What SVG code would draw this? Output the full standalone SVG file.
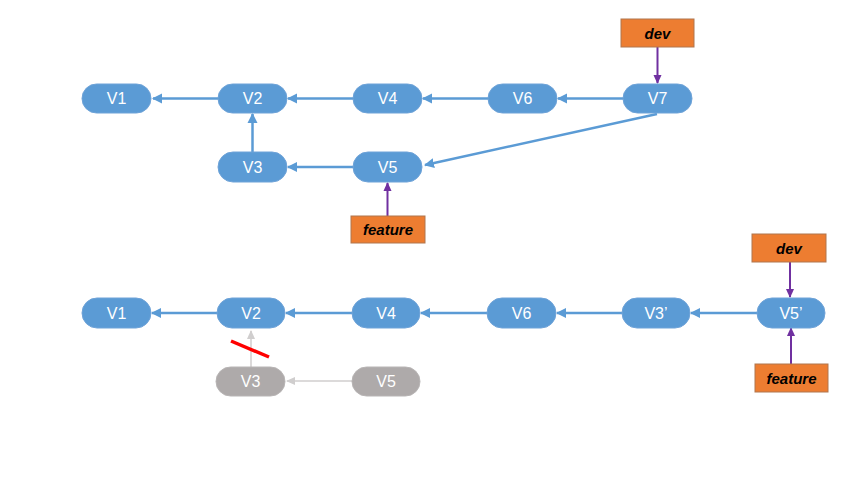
<svg xmlns="http://www.w3.org/2000/svg" width="861" height="477" viewBox="0 0 861 477">
<defs>
<marker id="ab" markerWidth="12" markerHeight="12" refX="9" refY="6" orient="auto" markerUnits="userSpaceOnUse">
<path d="M0,1 L10,6 L0,11 z" fill="#5B9BD5"/>
</marker>
<marker id="ap" markerWidth="10" markerHeight="10" refX="8" refY="5" orient="auto" markerUnits="userSpaceOnUse">
<path d="M0,1 L9,5 L0,9 z" fill="#7030A0"/>
</marker>
<marker id="ag" markerWidth="10" markerHeight="10" refX="8" refY="5" orient="auto" markerUnits="userSpaceOnUse">
<path d="M0,1 L9,5 L0,9 z" fill="#D0CECE"/>
</marker>
<style>
.n{fill:#5B9BD5;stroke:#6FA3D8;stroke-width:1}
.g{fill:#AEAAAA;stroke:#B8B5B5;stroke-width:1}
.o{fill:#ED7D31;stroke:#B0764E;stroke-width:1}
.t{font-family:"Liberation Sans",Arial,sans-serif;font-size:16px;fill:#FFFFFF;text-anchor:middle;dominant-baseline:central}
.l{font-family:"Liberation Sans",Arial,sans-serif;font-size:15px;font-weight:bold;font-style:italic;fill:#000000;text-anchor:middle;dominant-baseline:central}
.cb{stroke:#5B9BD5;stroke-width:2.5;fill:none;marker-end:url(#ab)}
.cp{stroke:#7030A0;stroke-width:2;fill:none;marker-end:url(#ap)}
.cg{stroke:#D0CECE;stroke-width:1.5;fill:none;marker-end:url(#ag)}
</style>
</defs>
<g id="connectors">
<line class="cb" x1="218" y1="98.5" x2="153" y2="98.5"/>
<line class="cb" x1="353" y1="98.5" x2="288" y2="98.5"/>
<line class="cb" x1="488" y1="98.5" x2="423" y2="98.5"/>
<line class="cb" x1="623" y1="98.5" x2="558" y2="98.5"/>
<line class="cb" x1="252.5" y1="152" x2="252.5" y2="114"/>
<line class="cb" x1="353" y1="167" x2="288" y2="167"/>
<line class="cb" x1="657" y1="114" x2="425" y2="165"/>
<line class="cp" x1="387.5" y1="216" x2="387.5" y2="183"/>
<line class="cp" x1="657.5" y1="47" x2="657.5" y2="83"/>
<line class="cb" x1="217" y1="313" x2="152" y2="313"/>
<line class="cb" x1="352" y1="313" x2="286" y2="313"/>
<line class="cb" x1="487" y1="313" x2="421" y2="313"/>
<line class="cb" x1="622" y1="313" x2="557" y2="313"/>
<line class="cb" x1="757" y1="313" x2="691" y2="313"/>
<line class="cp" x1="790" y1="262" x2="790" y2="297"/>
<line class="cp" x1="791" y1="364" x2="791" y2="328"/>
<line class="cg" x1="251" y1="367" x2="251" y2="331"/>
<line class="cg" x1="352" y1="381" x2="287" y2="381"/>
<line x1="231" y1="341" x2="269" y2="357" stroke="#FF0000" stroke-width="3.5"/>
</g>
<g id="t-v1"><rect class="n" x="82" y="84" width="69" height="29" rx="14.5"/><text class="t" x="116.5" y="98.5">V1</text></g>
<g id="t-v2"><rect class="n" x="218" y="84" width="69" height="29" rx="14.5"/><text class="t" x="252.5" y="98.5">V2</text></g>
<g id="t-v4"><rect class="n" x="353" y="84" width="69" height="29" rx="14.5"/><text class="t" x="387.5" y="98.5">V4</text></g>
<g id="t-v6"><rect class="n" x="488" y="84" width="69" height="29" rx="14.5"/><text class="t" x="522.5" y="98.5">V6</text></g>
<g id="t-v7"><rect class="n" x="623" y="84" width="69" height="29" rx="14.5"/><text class="t" x="657.5" y="98.5">V7</text></g>
<g id="t-v3"><rect class="n" x="218" y="152" width="69" height="30" rx="15"/><text class="t" x="252.5" y="167">V3</text></g>
<g id="t-v5"><rect class="n" x="353" y="152" width="69" height="30" rx="15"/><text class="t" x="387.5" y="167">V5</text></g>
<g id="t-dev"><rect class="o" x="621" y="19" width="73" height="28"/><text class="l" x="657.5" y="33">dev</text></g>
<g id="t-feature"><rect class="o" x="351" y="216" width="74" height="27"/><text class="l" x="388" y="229.5">feature</text></g>
<g id="b-v1"><rect class="n" x="82" y="298" width="69" height="30" rx="15"/><text class="t" x="116.5" y="313">V1</text></g>
<g id="b-v2"><rect class="n" x="217" y="298" width="68" height="30" rx="15"/><text class="t" x="251" y="313">V2</text></g>
<g id="b-v4"><rect class="n" x="352" y="298" width="68" height="30" rx="15"/><text class="t" x="386" y="313">V4</text></g>
<g id="b-v6"><rect class="n" x="487" y="298" width="69" height="30" rx="15"/><text class="t" x="521.5" y="313">V6</text></g>
<g id="b-v3p"><rect class="n" x="622" y="298" width="68" height="30" rx="15"/><text class="t" x="656" y="313">V3’</text></g>
<g id="b-v5p"><rect class="n" x="757" y="298" width="68" height="30" rx="15"/><text class="t" x="791" y="313">V5’</text></g>
<g id="b-v3"><rect class="g" x="216" y="367" width="69" height="29" rx="14.5"/><text class="t" x="250.5" y="381.5">V3</text></g>
<g id="b-v5"><rect class="g" x="352" y="367" width="68" height="29" rx="14.5"/><text class="t" x="386" y="381.5">V5</text></g>
<g id="b-dev"><rect class="o" x="752" y="234" width="74" height="28"/><text class="l" x="789" y="248">dev</text></g>
<g id="b-feature"><rect class="o" x="755" y="364" width="73" height="28"/><text class="l" x="791.5" y="378">feature</text></g>
</svg>
